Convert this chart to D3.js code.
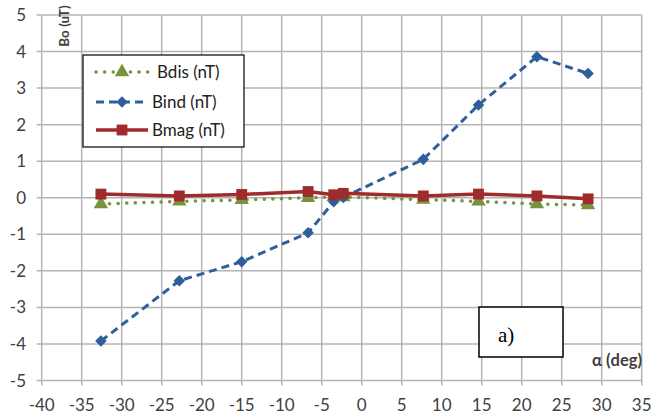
<!DOCTYPE html>
<html>
<head>
<meta charset="utf-8">
<script src="https://cdn.jsdelivr.net/npm/d3@7"></script>
<style>
  body { margin: 0; background: #fff; }
  text { font-family: Lato, "Open Sans", sans-serif; fill: #404040; }
</style>
</head>
<body>
<div id="chart"></div>
<script>
// data
const alpha = [-32.6, -22.8, -15.0, -6.7, -3.5, -2.3, 7.7, 14.6, 21.9, 28.3];
const bdis = [-0.17, -0.10, -0.06, 0.00, 0.02, 0.02, -0.05, -0.10, -0.17, -0.20];
const bind = [-3.92, -2.27, -1.75, -0.96, -0.11, 0.01, 1.05, 2.54, 3.86, 3.40];
const bmag = [0.10, 0.05, 0.09, 0.17, 0.08, 0.12, 0.05, 0.10, 0.05, -0.03];
const seriesNames = ["Bdis (nT)", "Bind (nT)", "Bmag (nT)"];
const xTicks = d3.range(-40, 36, 5);
const yTicks = d3.range(-5, 6, 1);

const W = 653, H = 415;
const svg = d3.select('#chart').append('svg').attr('width', W).attr('height', H);

const x = d3.scaleLinear().domain([-40, 35]).range([41.7, 641.7]);
const y = d3.scaleLinear().domain([-5, 5]).range([380.5, 15]);

const gridCol = "#b4b4b4";

// gridlines
svg.append('g').selectAll('line').data(xTicks).enter().append('line')
  .attr('x1', d => x(d)).attr('x2', d => x(d))
  .attr('y1', y(5)).attr('y2', y(-5) + 5)
  .attr('stroke', gridCol).attr('stroke-width', 1.5);
svg.append('g').selectAll('line').data(yTicks).enter().append('line')
  .attr('x1', x(-40) - 5).attr('x2', x(35))
  .attr('y1', d => y(d)).attr('y2', d => y(d))
  .attr('stroke', gridCol).attr('stroke-width', 1.5);

// tick labels
svg.append('g').selectAll('text').data(yTicks).enter().append('text')
  .attr('x', 26).attr('y', d => y(d) + 6)
  .attr('text-anchor', 'end').style('font-size', '17px')
  .text(d => d);
svg.append('g').selectAll('text').data(xTicks).enter().append('text')
  .attr('x', d => x(d)).attr('y', 411)
  .attr('text-anchor', 'middle').style('font-size', '17px')
  .text(d => d);

// axis titles
svg.append('text').attr('transform', 'translate(69,26) rotate(-90)')
  .attr('text-anchor', 'middle').style('font-size', '13.5px').style('font-weight', 'bold')
  .text('Bo (uT)');
svg.append('text').attr('x', 642).attr('y', 366)
  .attr('text-anchor', 'end').style('font-size', '16.5px').style('font-weight', 'bold')
  .text('α (deg)');

// series
const series = [
  { name: seriesNames[0], vals: bdis, color: "#77933c", width: 3.5, dash: "0.1,8.5", cap: "round", marker: d3.symbolTriangle, size: 90 },
  { name: seriesNames[1], vals: bind, color: "#2f5f9a", width: 3, dash: "8,5", cap: "butt", marker: d3.symbolDiamond2, size: 85 },
  { name: seriesNames[2], vals: bmag, color: "#a02b2b", width: 3.5, dash: null, cap: "butt", marker: d3.symbolSquare2, size: 150 }
];

const line = d3.line().x(d => x(d[0])).y(d => y(d[1]));

series.forEach(s => {
  const pts = alpha.map((a, i) => [a, s.vals[i]]);
  svg.append('path').datum(pts)
    .attr('d', line).attr('fill', 'none')
    .attr('stroke', s.color).attr('stroke-width', s.width)
    .attr('stroke-dasharray', s.dash).attr('stroke-linecap', s.cap);
  svg.append('g').selectAll('path').data(pts).enter().append('path')
    .attr('d', d3.symbol().type(s.marker).size(s.size))
    .attr('transform', d => `translate(${x(d[0])},${y(d[1])})`)
    .attr('fill', s.color);
});

// legend
const leg = svg.append('g');
leg.append('rect').attr('x', 83).attr('y', 55).attr('width', 161).attr('height', 92)
  .attr('fill', '#fff').attr('stroke', '#000').attr('stroke-width', 1.2);
const legY = [72, 102, 130];
const legTx = [157, 152, 152];
series.forEach((s, i) => {
  leg.append('line').attr('x1', 96).attr('x2', 148).attr('y1', legY[i]).attr('y2', legY[i])
    .attr('stroke', s.color).attr('stroke-width', s.width)
    .attr('stroke-dasharray', s.dash).attr('stroke-linecap', s.cap);
  leg.append('path').attr('d', d3.symbol().type(s.marker).size(s.size))
    .attr('transform', `translate(122,${legY[i]})`).attr('fill', s.color);
  leg.append('text').attr('x', legTx[i]).attr('y', legY[i] + 6)
    .style('font-size', '17px').style('fill', '#222').text(s.name);
});

// a) box
svg.append('rect').attr('x', 479).attr('y', 307).attr('width', 84).attr('height', 50)
  .attr('fill', '#fff').attr('stroke', '#000').attr('stroke-width', 1.5);
svg.append('text').attr('x', 498).attr('y', 342)
  .style('font-family', '"Liberation Serif", serif').style('font-size', '21px').style('fill', '#000')
  .text('a)');
</script>
</body>
</html>
